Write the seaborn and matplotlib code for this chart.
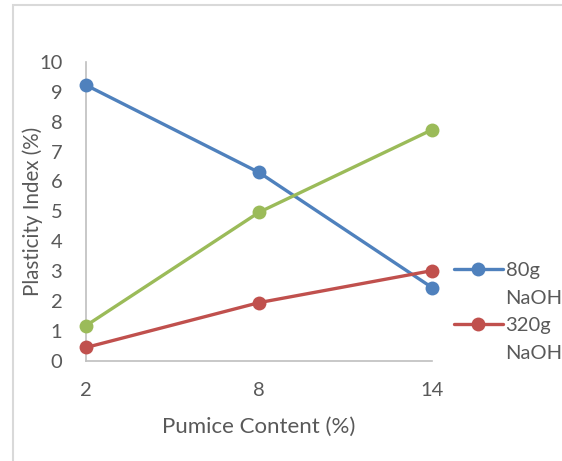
import matplotlib
matplotlib.use("Agg")
import matplotlib.pyplot as plt
import matplotlib.patches as patches
from matplotlib.lines import Line2D
import pandas as pd
import seaborn as sns

# pumice content (%) on the x axis
pumice = [2, 8, 14]
# plasticity index (%) per series
pi_80g = [9.22, 6.3, 2.45]
pi_320g = [0.45, 1.95, 3.02]
pi_green = [1.18, 4.97, 7.73]

series = ["80g NaOH", "320g NaOH"]
blue, red, green = "#4F81BD", "#C0504D", "#9BBB59"
grey_txt = "#595959"

sns.set_style("white")
plt.rcParams["font.family"] = ["Lato", "DejaVu Sans"]

fig = plt.figure(figsize=(5.62, 4.61), dpi=100)
ax = fig.add_axes([0.153, 0.217, 0.616, 0.649])

# light grey chart frame (runs off the right and bottom edge)
fig.patches.append(patches.Rectangle((0.023, -0.5), 1.5, 1.489, transform=fig.transFigure,
                                     fill=False, edgecolor="#d9d9d9", linewidth=1.5))

df = pd.DataFrame({"x": pumice * 3,
                   "y": pi_80g + pi_320g + pi_green,
                   "s": [series[0]] * 3 + [series[1]] * 3 + ["other"] * 3})

sns.lineplot(data=df[df.s != "other"], x="x", y="y", hue="s", palette=[blue, red],
             marker="o", markersize=10, markeredgewidth=0, linewidth=2.4, ax=ax, legend=False)
sns.lineplot(data=df[df.s == "other"], x="x", y="y", color=green, marker="o",
             markersize=10, markeredgewidth=0, linewidth=2.4, ax=ax, legend=False)

ax.set_xlim(2, 14)
ax.set_ylim(0, 10)
ax.set_xticks(pumice)
ax.set_yticks(range(0, 11))
ax.tick_params(axis="both", labelsize=14.5, colors=grey_txt, length=0)
ax.tick_params(axis="x", pad=15)
ax.tick_params(axis="y", pad=17)

for side in ["top", "right"]:
    ax.spines[side].set_visible(False)
for side in ["left", "bottom"]:
    ax.spines[side].set_color("#bfbfbf")
    ax.spines[side].set_linewidth(1.2)
    ax.spines[side].set_zorder(0)
for line in ax.lines:
    line.set_clip_on(False)

ax.set_xlabel("Pumice Content (%)", fontsize=16, color=grey_txt, labelpad=13)
ax.set_ylabel("Plasticity Index (%)", fontsize=14.8, color=grey_txt)
ax.yaxis.set_label_coords(-0.124, 0.5)

# legend: the names wrap onto a second line, handle sits on the first line
blank = Line2D([], [], linestyle="none")
handles, texts = [], []
for name, col in zip(series, [blue, red]):
    first, second = name.split(" ")
    handles += [Line2D([], [], color=col, marker="o", markersize=10, markeredgewidth=0,
                       linewidth=2.4), blank]
    texts += [first, second]
leg = ax.legend(handles, texts, loc="upper left", bbox_to_anchor=(1.052, 0.345), frameon=False,
                fontsize=14.5, handlelength=2.4, handletextpad=0.15, labelspacing=0.53,
                borderaxespad=0.0, borderpad=0.2)
for t in leg.get_texts():
    t.set_color(grey_txt)

fig.savefig("out.png", dpi=100)
